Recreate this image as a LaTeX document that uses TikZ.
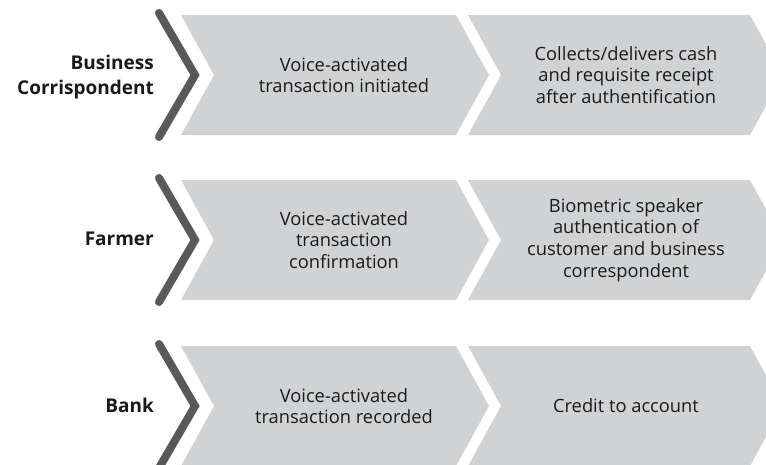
\documentclass[tikz,border=0pt]{standalone}
\usepackage{fontspec}
\setmainfont{Open Sans}
\definecolor{boxgray}{HTML}{D1D2D4}
\definecolor{linegray}{HTML}{58595B}
\definecolor{txt}{HTML}{1A1A1A}
\begin{document}
\begin{tikzpicture}[x=1pt,y=-1pt,
  stage/.style={fill=boxgray,draw=none},
  bracket/.style={draw=linegray,line width=8pt,line cap=round,line join=miter},
  steptext/.style={text=txt,align=center,font=\fontsize{18.3}{21.6}\selectfont,inner sep=0pt},
  rowlabel/.style={text=txt,align=right,font=\fontsize{19}{25}\selectfont\bfseries,anchor=east,inner sep=0pt}]
\useasboundingbox (0,0) rectangle (766,464);
\begin{scope}
\clip (0,0) rectangle (766,464);
\foreach \cy in {75,240,406}{
  \fill[stage] (181,\cy-60) -- (456,\cy-60) -- (489,\cy) -- (456,\cy+60) -- (181,\cy+60) -- (214,\cy) -- cycle;
  \fill[stage] (468,\cy-60) -- (750,\cy-60) -- (783,\cy) -- (750,\cy+60) -- (468,\cy+60) -- (501,\cy) -- cycle;
  \draw[bracket] (159,\cy-62) -- (195,\cy) -- (159,\cy+62);
}
\end{scope}
\node[rowlabel] (l1) at (154,77) {Business\\Corrispondent};
\node[rowlabel] (l2) at (154,239) {Farmer};
\node[rowlabel] (l3) at (154,405) {Bank};
\node[steptext] (a1) at (344,75) {Voice-activated\\transaction initiated};
\node[steptext] (b1) at (626,75) {Collects/delivers cash\\and requisite receipt\\after authentification};
\node[steptext] (a2) at (344,240) {Voice-activated\\transaction\\confirmation};
\node[steptext] (b2) at (626,240) {Biometric speaker\\authentication of\\customer and business\\correspondent};
\node[steptext] (a3) at (344,406) {Voice-activated\\transaction recorded};
\node[steptext] (b3) at (626,406) {Credit to account};
\end{tikzpicture}
\end{document}
